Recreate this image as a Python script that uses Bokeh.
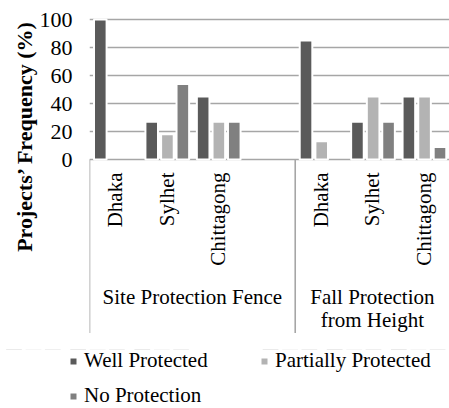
from math import pi
from bokeh.plotting import figure
from bokeh.layouts import column
from bokeh.models import (ColumnDataSource, FactorRange, Range1d, FixedTicker, Title,
                          Legend, LegendItem, CDSView, BooleanFilter)
from bokeh.transform import dodge
from bokeh.core.properties import value
from bokeh.embed import file_html
from bokeh.resources import INLINE

# ---------------- data ----------------
GROUPS = ["Site Protection Fence", "Fall Protection from Height"]
GROUP_LABELS = ["Site Protection Fence", "Fall Protection\nfrom Height"]
CITIES = ["Dhaka", "Sylhet", "Chittagong"]
SERIES = ["Well Protected", "Partially Protected", "No Protection"]
WELL = [100, 27, 45, 85, 27, 45]
PARTIAL = [0, 18, 27, 13, 45, 45]
NO_PROT = [0, 54, 27, 0, 27, 9]
Y_TICKS = [0, 20, 40, 60, 80, 100]
Y_TITLE = "Projects\u2019 Frequency (%)"

# ---------------- style ----------------
FONT = "Liberation Serif"
COLORS = ["#5a5a5a", "#b3b3b3", "#808080"]
OFFSETS = [-0.29, 0.015, 0.315]
GRID = "#a6a6a6"
SEP_BOTTOM = -124
COLS = ["well", "partial", "none"]

factors = []
for gi, g in enumerate(GROUPS):
    for c in CITIES:
        factors.append((g, c))
    if gi == 0:
        factors.append((g, " "))

bar_x = [(g, c) for g in GROUPS for c in CITIES]
src = ColumnDataSource(dict(x=bar_x, well=WELL, partial=PARTIAL, none=NO_PROT))
xr = FactorRange(*factors, factor_padding=0, group_padding=0, range_padding=0)

p = figure(width=449, height=349, x_range=xr, y_range=Range1d(-135.71, 101.43),
           x_axis_location=None, y_axis_location="left",
           output_backend="svg", toolbar_location=None,
           min_border_left=89, min_border_right=0, min_border_top=17, min_border_bottom=0)
p.frame_align = False
p.outline_line_color = None
p.background_fill_color = "white"
p.border_fill_color = "white"
p.xgrid.visible = False
p.ygrid.ticker = FixedTicker(ticks=Y_TICKS)
p.ygrid.grid_line_color = GRID
p.ygrid.grid_line_width = 1.6

ax = p.yaxis[0]
ax.ticker = FixedTicker(ticks=Y_TICKS)
ax.axis_line_color = None
ax.major_tick_line_color = None
ax.minor_tick_line_color = None
ax.major_tick_out = 0
ax.major_tick_in = 0
ax.major_label_standoff = 17
ax.major_label_text_align = "right"
ax.major_label_text_font = FONT
ax.major_label_text_font_size = "22px"
ax.major_label_text_color = "black"

for col, color, off in zip(COLS, COLORS, OFFSETS):
    view = CDSView(filter=BooleanFilter([v > 0 for v in src.data[col]]))
    p.vbar(x=dodge("x", off, range=xr), top=col, width=0.245, bottom=0,
           source=src, view=view, fill_color=color, line_color="white", line_width=2)

# separators / left axis line
sep_src = ColumnDataSource(dict(x=[(g, CITIES[0]) for g in GROUPS]))
p.segment(x0=dodge("x", -0.5, range=xr), y0=0,
          x1=dodge("x", -0.5, range=xr), y1=SEP_BOTTOM,
          source=sep_src, line_color=GRID, line_width=1.6)

# category labels
city_src = ColumnDataSource(dict(x=bar_x, y=[0] * len(bar_x),
                                 t=[c for g in GROUPS for c in CITIES]))
p.text(x="x", y="y", text="t", source=city_src, angle=pi / 2, text_align="right",
       text_baseline="middle", y_offset=13, text_font=value(FONT),
       text_font_size="21px", text_color="black")

# group labels
grp_src = ColumnDataSource(dict(x=GROUPS, y=[0, 0], t=GROUP_LABELS))
p.text(x="x", y="y", text="t", source=grp_src, text_align="center",
       text_baseline="top", y_offset=125, text_font=value(FONT),
       text_font_size="21px", text_color="black", text_line_height=0.98)

# y title
p.add_layout(Title(text=Y_TITLE, align="right", offset=3, text_font=FONT,
                   text_font_size="22px", text_font_style="bold",
                   text_color="black", standoff=0), "left")

# legend strip (same bars, scrolled out of view; only the legend shows)
q = figure(width=449, height=59, x_range=xr, y_range=Range1d(-2, -1),
           x_axis_location=None, y_axis_location=None,
           output_backend="svg", toolbar_location=None,
           min_border_left=0, min_border_right=0, min_border_top=0, min_border_bottom=0)
q.frame_align = False
q.outline_line_color = None
q.background_fill_color = "white"
q.border_fill_color = "white"
q.grid.visible = False
leg_r = []
for col, color, off in zip(COLS, COLORS, OFFSETS):
    leg_r.append(q.vbar(x=dodge("x", off, range=xr), top=col, width=0.245, bottom=0,
                        source=src, fill_color=color, line_color="white", line_width=2))
lg = Legend(items=[LegendItem(label=s, renderers=[r]) for s, r in zip(SERIES, leg_r)],
            location=(68, 0), orientation="horizontal", ncols=2,
            glyph_width=10, glyph_height=10, label_standoff=6, label_height=23,
            label_width=165, spacing=10, padding=0, margin=0,
            border_line_color=None, background_fill_alpha=0,
            label_text_font=FONT, label_text_font_size="21px",
            label_text_color="black")
q.add_layout(lg)

open("out.html", "w").write(file_html(column(p, q, spacing=0), INLINE))
